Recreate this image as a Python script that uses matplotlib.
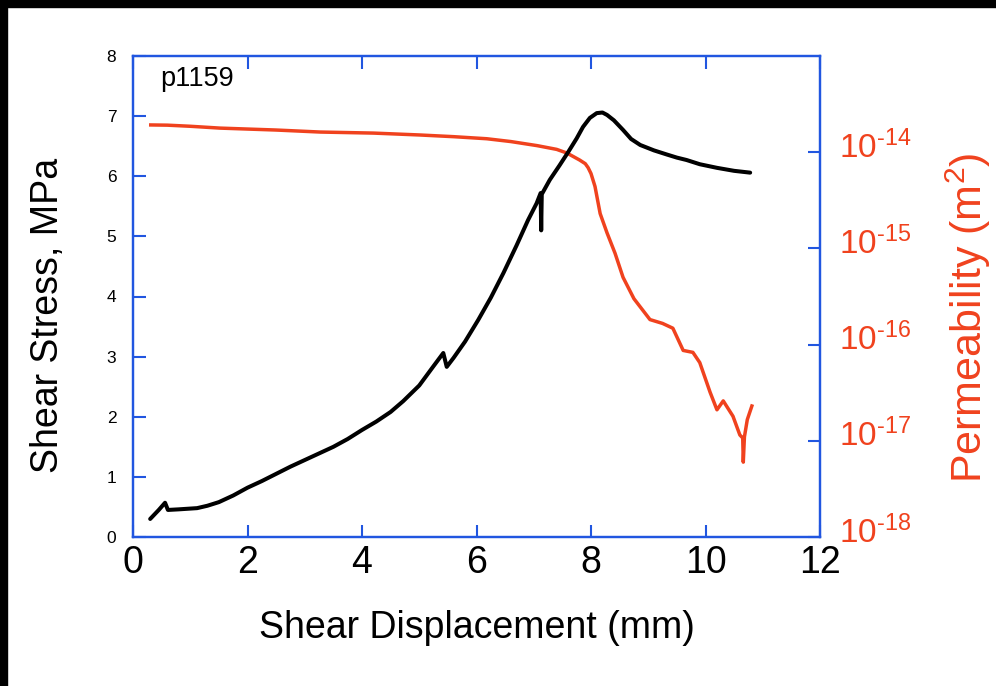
import matplotlib
matplotlib.use("Agg")
import matplotlib.pyplot as plt
from matplotlib.patches import Rectangle
from matplotlib.ticker import FixedLocator, FixedFormatter
from matplotlib.transforms import ScaledTranslation

plt.rcParams["font.family"] = ["Liberation Sans", "DejaVu Sans"]
plt.rcParams["mathtext.fontset"] = "custom"
plt.rcParams["mathtext.rm"] = "Liberation Sans"
plt.rcParams["mathtext.it"] = "Liberation Sans:italic"
plt.rcParams["mathtext.default"] = "regular"

# Shear stress record (MPa) vs shear displacement (mm)
disp_stress = [0.30, 0.45, 0.56, 0.61, 0.80, 1.12, 1.30, 1.50, 1.75, 2.00,
               2.25, 2.50, 2.75, 3.00, 3.25, 3.50, 3.75, 4.00, 4.25, 4.50,
               4.72, 5.00, 5.24, 5.42, 5.48, 5.60, 5.80, 6.03, 6.25, 6.47,
               6.70, 6.90, 7.05, 7.12, 7.13, 7.14, 7.28, 7.45, 7.60, 7.75,
               7.86, 7.98, 8.10, 8.20, 8.28, 8.40, 8.56, 8.70, 8.86, 9.10,
               9.33, 9.50, 9.67, 9.90, 10.20, 10.50, 10.78]
shear_stress = [0.30, 0.45, 0.57, 0.45, 0.46, 0.48, 0.52, 0.58, 0.69, 0.82,
                0.93, 1.05, 1.17, 1.28, 1.39, 1.50, 1.63, 1.78, 1.92, 2.08,
                2.26, 2.52, 2.83, 3.06, 2.83, 2.98, 3.25, 3.61, 3.98, 4.39,
                4.85, 5.27, 5.55, 5.72, 5.10, 5.70, 5.94, 6.18, 6.40, 6.63,
                6.82, 6.97, 7.05, 7.06, 7.02, 6.93, 6.77, 6.62, 6.52, 6.43,
                6.36, 6.31, 6.27, 6.20, 6.14, 6.09, 6.06]

# Permeability record (m^2) vs shear displacement (mm)
disp_perm = [0.31, 0.60, 1.00, 1.52, 2.50, 3.27, 4.20, 5.01, 5.60, 6.18,
             6.60, 7.06, 7.40, 7.58, 7.80, 7.90, 7.95, 8.00, 8.07, 8.16,
             8.28, 8.42, 8.56, 8.75, 9.03, 9.25, 9.43, 9.61, 9.78, 9.90,
             10.08, 10.20, 10.31, 10.48, 10.60, 10.65, 10.66, 10.68, 10.73, 10.81]
permeability = [1.92e-14, 1.91e-14, 1.86e-14, 1.78e-14, 1.70e-14, 1.62e-14,
                1.58e-14, 1.51e-14, 1.45e-14, 1.38e-14, 1.29e-14, 1.17e-14,
                1.07e-14, 9.8e-15, 8.3e-15, 7.6e-15, 6.9e-15, 6.0e-15,
                4.4e-15, 2.3e-15, 1.45e-15, 8.9e-16, 5.0e-16, 3.0e-16,
                1.82e-16, 1.66e-16, 1.48e-16, 8.7e-17, 8.3e-17, 6.5e-17,
                3.2e-17, 2.1e-17, 2.6e-17, 1.8e-17, 1.15e-17, 1.07e-17,
                6.0e-18, 1.1e-17, 1.66e-17, 2.3e-17]

x_ticks = [0, 2, 4, 6, 8, 10, 12]
stress_ticks = [0, 1, 2, 3, 4, 5, 6, 7, 8]
perm_ticks = [1e-18, 1e-17, 1e-16, 1e-15, 1e-14]
perm_tick_labels = [r"10$^{\text{-}18}$", r"10$^{\text{-}17}$", r"10$^{\text{-}16}$",
                    r"10$^{\text{-}15}$", r"10$^{\text{-}14}$"]

BLUE = "#2156e0"
RED = "#f0421e"

fig = plt.figure(figsize=(9.96, 6.86), dpi=100)
fig.patch.set_facecolor("white")
ax = fig.add_axes([133 / 996, 1 - 537 / 686, (820 - 133) / 996, (537 - 56) / 686])
ax2 = ax.twinx()

ax.plot(disp_stress, shear_stress, color="black", lw=2.9, solid_joinstyle="round",
        solid_capstyle="round", zorder=3)
ax2.plot(disp_perm, permeability, color=RED, lw=2.5, solid_joinstyle="round", zorder=2)
ax.set_zorder(ax2.get_zorder() + 1)
ax.patch.set_visible(False)

ax.set_xlim(0, 12)
ax.set_ylim(0, 8)
ax2.set_yscale("log")
ax2.set_ylim(1e-18, 1e-13)

ax.set_xticks(x_ticks)
ax.set_yticks(stress_ticks)
ax2.yaxis.set_major_locator(FixedLocator(perm_ticks))
ax2.yaxis.set_major_formatter(FixedFormatter(perm_tick_labels))
ax2.yaxis.set_minor_locator(FixedLocator([]))

for a in (ax, ax2):
    for s in a.spines.values():
        s.set_color(BLUE)
        s.set_linewidth(1.6)

ax.tick_params(axis="x", direction="in", length=9, width=1.5, color=BLUE,
               labelsize=27, pad=6, top=True)
ax.tick_params(axis="y", direction="in", length=9, width=1.5, color=BLUE,
               labelsize=12.5, pad=12, right=False)
ax2.tick_params(axis="y", direction="in", length=9, width=1.5, color=BLUE,
                labelsize=24, labelcolor=RED, pad=14)

# raise the permeability tick labels slightly above their ticks
lift = ScaledTranslation(0, 8 / 100, fig.dpi_scale_trans)
for lbl in ax2.get_yticklabels():
    lbl.set_transform(lbl.get_transform() + lift)

ax.set_xlabel("Shear Displacement (mm)", fontsize=27)
ax.xaxis.set_label_coords(0.5, -0.152)
ax.set_ylabel("Shear Stress, MPa", fontsize=27)
ax.yaxis.set_label_coords(-0.097, 0.46)
ax2.set_ylabel("Permeability (m$^2$)", fontsize=31, color=RED)
ax2.yaxis.set_label_coords(1.18, 0.455)

ax.text(0.47, 7.50, "p1159", fontsize=19.5, ha="left", va="baseline")

# dark frame strips along top and left edges
fig.patches.append(Rectangle((0, 1 - 7 / 686), 1, 7 / 686, transform=fig.transFigure,
                             color="black", zorder=10))
fig.patches.append(Rectangle((0, 0), 7 / 996, 1, transform=fig.transFigure,
                             color="black", zorder=10))

fig.savefig("out.png", dpi=100)
